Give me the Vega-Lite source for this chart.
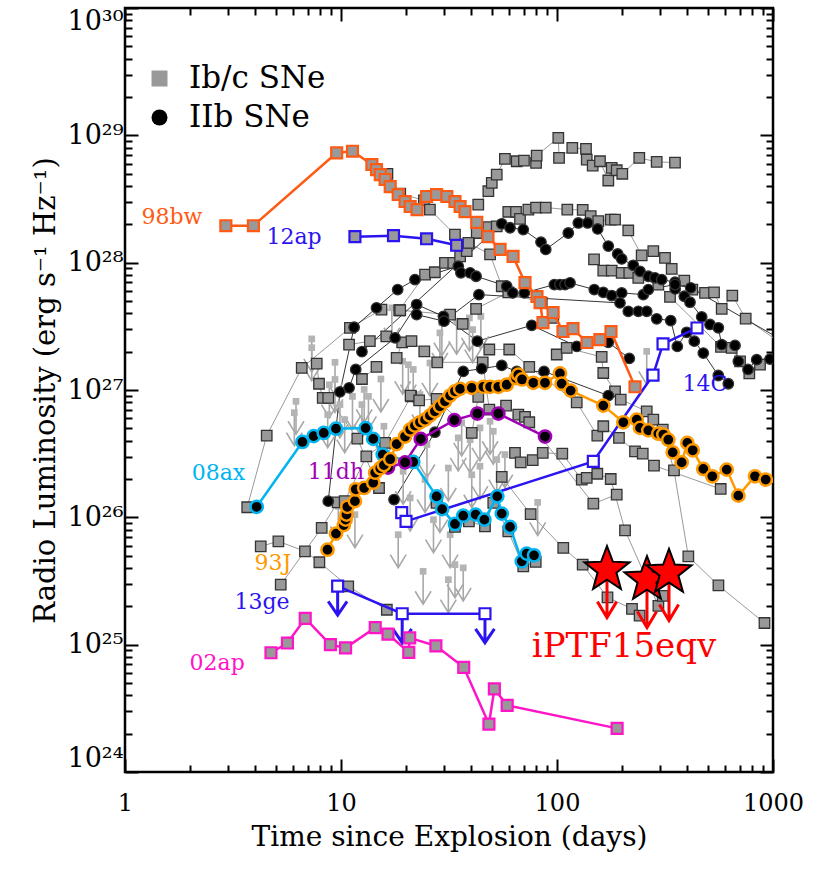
{
"$schema": "https://vega.github.io/schema/vega-lite/v6.json",
"width": 648, "height": 764,
"autosize": {"type": "none"},
"padding": {"left": 125, "top": 8, "right": 57, "bottom": 119},
"background": "white",
"config": {"view": {"stroke": "black", "strokeWidth": 2.5}, "font": "DejaVu Serif"},
"resolve": {"axis": {"x": "independent", "y": "independent"}},
"datasets": {
"bg": [
{"s":"G1","k":"Ib/c SNe","t":43.2,"L":2.86e28},{"s":"G1","k":"Ib/c SNe","t":48.1,"L":3.64e28},{"s":"G1","k":"Ib/c SNe","t":49.9,"L":4.24e28},{"s":"G1","k":"Ib/c SNe","t":52.6,"L":4.92e28},{"s":"G1","k":"Ib/c SNe","t":57.4,"L":6.53e28},{"s":"G1","k":"Ib/c SNe","t":65.1,"L":6.26e28},{"s":"G1","k":"Ib/c SNe","t":70.3,"L":6.34e28},{"s":"G1","k":"Ib/c SNe","t":80.0,"L":6.08e28},{"s":"G1","k":"Ib/c SNe","t":80.5,"L":6.94e28},{"s":"G1","k":"Ib/c SNe","t":101.4,"L":9.55e28},{"s":"G1","k":"Ib/c SNe","t":102.2,"L":6.65e28},{"s":"G1","k":"Ib/c SNe","t":117.7,"L":7.98e28},{"s":"G1","k":"Ib/c SNe","t":136.2,"L":7.83e28},{"s":"G1","k":"Ib/c SNe","t":137.3,"L":6.45e28},{"s":"G1","k":"Ib/c SNe","t":146.3,"L":5.79e28},{"s":"G1","k":"Ib/c SNe","t":158.1,"L":6.26e28},{"s":"G1","k":"Ib/c SNe","t":172.8,"L":4.42e28},{"s":"G1","k":"Ib/c SNe","t":179.2,"L":5.56e28},{"s":"G1","k":"Ib/c SNe","t":189.0,"L":5.32e28},{"s":"G1","k":"Ib/c SNe","t":200.6,"L":4.99e28},{"s":"G1","k":"Ib/c SNe","t":240.4,"L":6.65e28},{"s":"G1","k":"Ib/c SNe","t":289.4,"L":6.19e28},{"s":"G1","k":"Ib/c SNe","t":351.8,"L":6.11e28},
{"s":"G2","k":"Ib/c SNe","t":3.68,"L":1.20e26},{"s":"G2","k":"Ib/c SNe","t":4.53,"L":4.38e26},{"s":"G2","k":"Ib/c SNe","t":6.58,"L":1.49e27},{"s":"G2","k":"Ib/c SNe","t":11.0,"L":3.08e27},{"s":"G2","k":"Ib/c SNe","t":15.4,"L":4.28e27},{"s":"G2","k":"Ib/c SNe","t":18.6,"L":4.23e27},{"s":"G2","k":"Ib/c SNe","t":24.5,"L":8.06e27},{"s":"G2","k":"Ib/c SNe","t":27.2,"L":8.41e27},{"s":"G2","k":"Ib/c SNe","t":30.3,"L":9.96e27},{"s":"G2","k":"Ib/c SNe","t":33.1,"L":9.96e27},{"s":"G2","k":"Ib/c SNe","t":35.6,"L":1.12e28},{"s":"G2","k":"Ib/c SNe","t":38.2,"L":1.23e28},{"s":"G2","k":"Ib/c SNe","t":39.1,"L":1.43e28},{"s":"G2","k":"Ib/c SNe","t":42.5,"L":1.71e28},{"s":"G2","k":"Ib/c SNe","t":48.1,"L":1.90e28},{"s":"G2","k":"Ib/c SNe","t":52.6,"L":1.93e28},{"s":"G2","k":"Ib/c SNe","t":59.5,"L":2.51e28},{"s":"G2","k":"Ib/c SNe","t":64.6,"L":2.51e28},{"s":"G2","k":"Ib/c SNe","t":67.4,"L":2.21e28},{"s":"G2","k":"Ib/c SNe","t":73.7,"L":2.61e28},{"s":"G2","k":"Ib/c SNe","t":80.0,"L":2.71e28},{"s":"G2","k":"Ib/c SNe","t":88.7,"L":2.71e28},{"s":"G2","k":"Ib/c SNe","t":111.6,"L":2.61e28},{"s":"G2","k":"Ib/c SNe","t":131.5,"L":2.60e28},{"s":"G2","k":"Ib/c SNe","t":143.2,"L":2.32e28},{"s":"G2","k":"Ib/c SNe","t":155.3,"L":2.12e28},{"s":"G2","k":"Ib/c SNe","t":177.3,"L":2.18e28},{"s":"G2","k":"Ib/c SNe","t":185.6,"L":2.18e28},{"s":"G2","k":"Ib/c SNe","t":213.8,"L":1.79e28},{"s":"G2","k":"Ib/c SNe","t":246.6,"L":1.14e28},{"s":"G2","k":"Ib/c SNe","t":279.2,"L":1.23e28},{"s":"G2","k":"Ib/c SNe","t":316.2,"L":1.09e28},{"s":"G2","k":"Ib/c SNe","t":339.6,"L":8.94e27},{"s":"G2","k":"Ib/c SNe","t":388.5,"L":7.23e27},{"s":"G2","k":"Ib/c SNe","t":423.1,"L":6.15e27},{"s":"G2","k":"Ib/c SNe","t":484.5,"L":5.79e27},{"s":"G2","k":"Ib/c SNe","t":533.3,"L":5.85e27},{"s":"G2","k":"Ib/c SNe","t":578.8,"L":4.34e27},{"s":"G2","k":"Ib/c SNe","t":648.1,"L":5.52e27},{"s":"G2","k":"Ib/c SNe","t":747.4,"L":3.64e27},{"s":"G2","k":"Ib/c SNe","t":1199,"L":2.08e27},
{"s":"G3","k":"Ib/c SNe","t":16.4,"L":4.99e28},{"s":"G3","k":"Ib/c SNe","t":18.8,"L":3.49e28},{"s":"G3","k":"Ib/c SNe","t":24.2,"L":3.09e28},{"s":"G3","k":"Ib/c SNe","t":25.8,"L":2.61e28},{"s":"G3","k":"Ib/c SNe","t":33.7,"L":1.66e28},{"s":"G3","k":"Ib/c SNe","t":38.9,"L":1.43e28},{"s":"G3","k":"Ib/c SNe","t":49.0,"L":1.16e28},{"s":"G3","k":"Ib/c SNe","t":55.5,"L":6.53e27},
{"s":"G4","k":"Ib/c SNe","t":4.25,"L":5.92e25},{"s":"G4","k":"Ib/c SNe","t":5.13,"L":6.48e25},{"s":"G4","k":"Ib/c SNe","t":6.81,"L":5.41e25},{"s":"G4","k":"Ib/c SNe","t":7.94,"L":4.44e25},{"s":"G4","k":"Ib/c SNe","t":10.8,"L":2.87e25},{"s":"G4","k":"Ib/c SNe","t":16.3,"L":1.88e25},
{"s":"G5","k":"Ib/c SNe","t":5.26,"L":2.96e25},{"s":"G5","k":"Ib/c SNe","t":8.14,"L":8.26e25},{"s":"G5","k":"Ib/c SNe","t":9.65,"L":1.31e26},{"s":"G5","k":"Ib/c SNe","t":10.4,"L":1.34e26},{"s":"G5","k":"Ib/c SNe","t":13.1,"L":3.01e26},{"s":"G5","k":"Ib/c SNe","t":16.0,"L":3.84e26},{"s":"G5","k":"Ib/c SNe","t":21.1,"L":8.91e26},
{"s":"G6","k":"Ib/c SNe","t":55.5,"L":2.08e26},{"s":"G6","k":"Ib/c SNe","t":75.5,"L":1.06e26},{"s":"G6","k":"Ib/c SNe","t":106.9,"L":5.75e25},{"s":"G6","k":"Ib/c SNe","t":131.5,"L":4.25e25},{"s":"G6","k":"Ib/c SNe","t":171.3,"L":2.35e25},{"s":"G6","k":"Ib/c SNe","t":222.4,"L":1.91e25},{"s":"G6","k":"Ib/c SNe","t":241.2,"L":1.69e25},
{"s":"G7","k":"Ib/c SNe","t":63.9,"L":3.21e26},{"s":"G7","k":"Ib/c SNe","t":67.9,"L":2.70e26},{"s":"G7","k":"Ib/c SNe","t":77.2,"L":2.81e26},{"s":"G7","k":"Ib/c SNe","t":85.9,"L":3.21e26},{"s":"G7","k":"Ib/c SNe","t":105.8,"L":3.16e26},{"s":"G7","k":"Ib/c SNe","t":130.2,"L":1.98e26},{"s":"G7","k":"Ib/c SNe","t":137.3,"L":2.04e26},{"s":"G7","k":"Ib/c SNe","t":153.7,"L":2.20e26},{"s":"G7","k":"Ib/c SNe","t":177.3,"L":2.00e26},{"s":"G7","k":"Ib/c SNe","t":206.5,"L":7.91e25},{"s":"G7","k":"Ib/c SNe","t":294.7,"L":2.02e25},{"s":"G7","k":"Ib/c SNe","t":308.6,"L":2.42e25},
{"s":"G8","k":"Ib/c SNe","t":99.7,"L":1.90e27},{"s":"G8","k":"Ib/c SNe","t":110.9,"L":2.14e27},{"s":"G8","k":"Ib/c SNe","t":161.0,"L":1.82e27},{"s":"G8","k":"Ib/c SNe","t":163.8,"L":1.36e27},{"s":"G8","k":"Ib/c SNe","t":185.6,"L":9.77e26},{"s":"G8","k":"Ib/c SNe","t":197.2,"L":8.41e26},{"s":"G8","k":"Ib/c SNe","t":260.2,"L":6.80e26},{"s":"G8","k":"Ib/c SNe","t":279.2,"L":5.85e26},{"s":"G8","k":"Ib/c SNe","t":308.6,"L":4.89e26},{"s":"G8","k":"Ib/c SNe","t":348.0,"L":2.34e26},{"s":"G8","k":"Ib/c SNe","t":405.5,"L":4.94e25},{"s":"G8","k":"Ib/c SNe","t":558.8,"L":2.92e25},{"s":"G8","k":"Ib/c SNe","t":913.2,"L":1.48e25},
{"s":"G9","k":"Ib/c SNe","t":48.6,"L":2.08e27},{"s":"G9","k":"Ib/c SNe","t":60.1,"L":2.08e27},{"s":"G9","k":"Ib/c SNe","t":74.4,"L":1.52e27},{"s":"G9","k":"Ib/c SNe","t":123.4,"L":8.00e26},{"s":"G9","k":"Ib/c SNe","t":153.7,"L":4.38e26},{"s":"G9","k":"Ib/c SNe","t":163.8,"L":5.19e26},{"s":"G9","k":"Ib/c SNe","t":193.6,"L":4.21e26},{"s":"G9","k":"Ib/c SNe","t":229.7,"L":3.30e26},{"s":"G9","k":"Ib/c SNe","t":249.4,"L":3.16e26},{"s":"G9","k":"Ib/c SNe","t":281.2,"L":2.55e26},{"s":"G9","k":"Ib/c SNe","t":572.6,"L":1.67e26},
{"s":"G10","k":"Ib/c SNe","t":18.8,"L":4.23e27},{"s":"G10","k":"Ib/c SNe","t":32.0,"L":3.91e27},{"s":"G10","k":"Ib/c SNe","t":36.6,"L":3.30e27},{"s":"G10","k":"Ib/c SNe","t":42.2,"L":4.34e27},{"s":"G10","k":"Ib/c SNe","t":59.5,"L":5.85e27},{"s":"G10","k":"Ib/c SNe","t":85.0,"L":4.83e27},{"s":"G10","k":"Ib/c SNe","t":96.1,"L":3.68e27},
{"s":"G11","k":"Ib/c SNe","t":18.1,"L":1.79e27},{"s":"G11","k":"Ib/c SNe","t":19.2,"L":2.37e27},{"s":"G11","k":"Ib/c SNe","t":21.2,"L":2.42e27},{"s":"G11","k":"Ib/c SNe","t":24.3,"L":2.01e27},{"s":"G11","k":"Ib/c SNe","t":27.9,"L":1.65e27},{"s":"G11","k":"Ib/c SNe","t":45.3,"L":1.65e27},{"s":"G11","k":"Ib/c SNe","t":48.6,"L":7.02e26},{"s":"G11","k":"Ib/c SNe","t":58.1,"L":7.54e26},{"s":"G11","k":"Ib/c SNe","t":66.2,"L":6.41e26},{"s":"G11","k":"Ib/c SNe","t":71.1,"L":6.15e26},{"s":"G11","k":"Ib/c SNe","t":74.4,"L":5.58e26},{"s":"G11","k":"Ib/c SNe","t":147.3,"L":1.28e26},{"s":"G11","k":"Ib/c SNe","t":189.0,"L":1.51e26},
{"s":"G12","k":"Ib/c SNe","t":7.72,"L":1.61e27},{"s":"G12","k":"Ib/c SNe","t":7.91,"L":1.12e27},{"s":"G12","k":"Ib/c SNe","t":8.23,"L":8.67e26},{"s":"G12","k":"Ib/c SNe","t":8.73,"L":8.67e26},{"s":"G12","k":"Ib/c SNe","t":11.9,"L":4.15e26},{"s":"G12","k":"Ib/c SNe","t":15.0,"L":1.70e26},
{"s":"G13","k":"Ib/c SNe","t":21.0,"L":9.04e26},{"s":"G13","k":"Ib/c SNe","t":23.0,"L":8.30e26},{"s":"G13","k":"Ib/c SNe","t":27.7,"L":8.51e26},{"s":"G13","k":"Ib/c SNe","t":40.3,"L":4.60e26},{"s":"G13","k":"Ib/c SNe","t":43.2,"L":8.83e26},
{"s":"G14","k":"Ib/c SNe","t":148.4,"L":1.06e28},{"s":"G14","k":"Ib/c SNe","t":163.8,"L":8.67e27},{"s":"G14","k":"Ib/c SNe","t":179.2,"L":8.67e27},{"s":"G14","k":"Ib/c SNe","t":199.3,"L":8.32e27},{"s":"G14","k":"Ib/c SNe","t":216.1,"L":8.32e27},{"s":"G14","k":"Ib/c SNe","t":237.9,"L":7.60e27},{"s":"G14","k":"Ib/c SNe","t":294.4,"L":6.73e27},{"s":"G14","k":"Ib/c SNe","t":333.6,"L":5.39e27},{"s":"G14","k":"Ib/c SNe","t":574.5,"L":2.18e27},{"s":"G14","k":"Ib/c SNe","t":643.9,"L":2.14e27},{"s":"G14","k":"Ib/c SNe","t":703.6,"L":1.68e27},{"s":"G14","k":"Ib/c SNe","t":776.8,"L":1.35e27},{"s":"G14","k":"Ib/c SNe","t":870.6,"L":1.58e27},
{"s":"G15","k":"Ib/c SNe","t":10.9,"L":2.27e27},{"s":"G15","k":"Ib/c SNe","t":13.6,"L":2.42e27},{"s":"G15","k":"Ib/c SNe","t":16.2,"L":2.64e27},
{"s":"G16","k":"Ib/c SNe","t":12.5,"L":1.22e27},{"s":"G16","k":"Ib/c SNe","t":14.6,"L":1.52e27},
{"s":"G17","k":"Ib/c SNe","t":27.7,"L":1.30e26},{"s":"G17","k":"Ib/c SNe","t":33.7,"L":8.41e25},{"s":"G17","k":"Ib/c SNe","t":39.1,"L":9.30e25},{"s":"G17","k":"Ib/c SNe","t":46.4,"L":8.49e25},{"s":"G17","k":"Ib/c SNe","t":50.7,"L":1.30e26},{"s":"G17","k":"Ib/c SNe","t":59.5,"L":7.76e25},{"s":"G17","k":"Ib/c SNe","t":69.8,"L":4.12e25},{"s":"G17","k":"Ib/c SNe","t":79.7,"L":4.47e25},
{"s":"B1","k":"IIb SNe","t":12.5,"L":2.00e27},{"s":"B1","k":"IIb SNe","t":55.5,"L":2.02e28},{"s":"B1","k":"IIb SNe","t":60.6,"L":1.88e28},{"s":"B1","k":"IIb SNe","t":69.8,"L":1.82e28},{"s":"B1","k":"IIb SNe","t":84.3,"L":1.45e28},{"s":"B1","k":"IIb SNe","t":88.7,"L":1.27e28},{"s":"B1","k":"IIb SNe","t":112.8,"L":1.71e28},{"s":"B1","k":"IIb SNe","t":125.5,"L":2.05e28},{"s":"B1","k":"IIb SNe","t":138.7,"L":2.05e28},{"s":"B1","k":"IIb SNe","t":154.3,"L":1.84e28},{"s":"B1","k":"IIb SNe","t":172.8,"L":1.35e28},{"s":"B1","k":"IIb SNe","t":191.0,"L":1.17e28},{"s":"B1","k":"IIb SNe","t":199.3,"L":1.07e28},{"s":"B1","k":"IIb SNe","t":225.5,"L":9.54e27},{"s":"B1","k":"IIb SNe","t":242.3,"L":8.55e27},{"s":"B1","k":"IIb SNe","t":264.7,"L":7.82e27},{"s":"B1","k":"IIb SNe","t":284.2,"L":7.60e27},{"s":"B1","k":"IIb SNe","t":305.3,"L":7.36e27},{"s":"B1","k":"IIb SNe","t":351.8,"L":7.02e27},{"s":"B1","k":"IIb SNe","t":352.5,"L":6.22e27},{"s":"B1","k":"IIb SNe","t":388.5,"L":5.45e27},{"s":"B1","k":"IIb SNe","t":412.8,"L":4.89e27},{"s":"B1","k":"IIb SNe","t":467.7,"L":3.75e27},{"s":"B1","k":"IIb SNe","t":510.9,"L":3.27e27},{"s":"B1","k":"IIb SNe","t":558.3,"L":3.08e27},{"s":"B1","k":"IIb SNe","t":578.8,"L":2.27e27},{"s":"B1","k":"IIb SNe","t":667.1,"L":2.24e27},{"s":"B1","k":"IIb SNe","t":690.9,"L":1.68e27},{"s":"B1","k":"IIb SNe","t":766.1,"L":1.45e27},{"s":"B1","k":"IIb SNe","t":840.5,"L":1.73e27},{"s":"B1","k":"IIb SNe","t":968.6,"L":1.75e27},
{"s":"B2","k":"IIb SNe","t":8.73,"L":1.34e26},{"s":"B2","k":"IIb SNe","t":9.89,"L":9.66e26},{"s":"B2","k":"IIb SNe","t":11.5,"L":3.11e27},{"s":"B2","k":"IIb SNe","t":14.6,"L":4.42e27},{"s":"B2","k":"IIb SNe","t":18.3,"L":6.15e27},{"s":"B2","k":"IIb SNe","t":22.0,"L":7.36e27},{"s":"B2","k":"IIb SNe","t":34.9,"L":9.37e27},{"s":"B2","k":"IIb SNe","t":35.9,"L":8.32e27},{"s":"B2","k":"IIb SNe","t":39.6,"L":8.32e27},{"s":"B2","k":"IIb SNe","t":42.2,"L":7.82e27},{"s":"B2","k":"IIb SNe","t":58.5,"L":6.53e27},{"s":"B2","k":"IIb SNe","t":62.4,"L":5.79e27},{"s":"B2","k":"IIb SNe","t":70.6,"L":5.79e27},{"s":"B2","k":"IIb SNe","t":97.2,"L":6.73e27},{"s":"B2","k":"IIb SNe","t":103.2,"L":6.73e27},{"s":"B2","k":"IIb SNe","t":108.9,"L":6.73e27},{"s":"B2","k":"IIb SNe","t":114.9,"L":6.94e27},{"s":"B2","k":"IIb SNe","t":148.8,"L":6.15e27},{"s":"B2","k":"IIb SNe","t":163.8,"L":5.85e27},{"s":"B2","k":"IIb SNe","t":179.2,"L":5.52e27},{"s":"B2","k":"IIb SNe","t":199.3,"L":5.79e27},{"s":"B2","k":"IIb SNe","t":250.9,"L":5.61e27},{"s":"B2","k":"IIb SNe","t":264.7,"L":6.15e27},{"s":"B2","k":"IIb SNe","t":351.8,"L":6.73e27},{"s":"B2","k":"IIb SNe","t":415.9,"L":6.34e27},{"s":"B2","k":"IIb SNe","t":1199,"L":2.27e27},
{"s":"B3","k":"IIb SNe","t":10.9,"L":1.04e27},{"s":"B3","k":"IIb SNe","t":11.7,"L":1.45e27},{"s":"B3","k":"IIb SNe","t":17.8,"L":2.57e27},{"s":"B3","k":"IIb SNe","t":22.4,"L":4.69e27},{"s":"B3","k":"IIb SNe","t":29.8,"L":3.79e27},{"s":"B3","k":"IIb SNe","t":42.8,"L":2.42e27},{"s":"B3","k":"IIb SNe","t":76.4,"L":3.22e27},{"s":"B3","k":"IIb SNe","t":123.4,"L":2.20e27},{"s":"B3","k":"IIb SNe","t":172.8,"L":2.37e27},{"s":"B3","k":"IIb SNe","t":216.1,"L":1.77e27},
{"s":"B4","k":"IIb SNe","t":22.4,"L":3.91e27},{"s":"B4","k":"IIb SNe","t":30.0,"L":3.47e27},{"s":"B4","k":"IIb SNe","t":43.5,"L":5.61e27},{"s":"B4","k":"IIb SNe","t":195.7,"L":4.83e27},{"s":"B4","k":"IIb SNe","t":213.8,"L":4.15e27},{"s":"B4","k":"IIb SNe","t":237.9,"L":4.15e27},{"s":"B4","k":"IIb SNe","t":260.2,"L":4.15e27},{"s":"B4","k":"IIb SNe","t":289.4,"L":3.62e27},{"s":"B4","k":"IIb SNe","t":336.1,"L":3.51e27},{"s":"B4","k":"IIb SNe","t":360.6,"L":2.20e27},{"s":"B4","k":"IIb SNe","t":398.6,"L":2.84e27},{"s":"B4","k":"IIb SNe","t":432.2,"L":2.42e27},{"s":"B4","k":"IIb SNe","t":475.7,"L":1.95e27},{"s":"B4","k":"IIb SNe","t":558.3,"L":1.30e27},{"s":"B4","k":"IIb SNe","t":621.0,"L":1.12e27},
{"s":"B5","k":"IIb SNe","t":17.6,"L":1.38e26},{"s":"B5","k":"IIb SNe","t":27.2,"L":4.66e26},{"s":"B5","k":"IIb SNe","t":36.8,"L":1.40e27},{"s":"B5","k":"IIb SNe","t":44.8,"L":1.47e27},{"s":"B5","k":"IIb SNe","t":55.5,"L":1.56e27},{"s":"B5","k":"IIb SNe","t":65.1,"L":1.40e27},{"s":"B5","k":"IIb SNe","t":87.1,"L":1.40e27},{"s":"B5","k":"IIb SNe","t":172.8,"L":9.04e26}
],
"lim": [
{"t":6.19,"L":8.15e26},{"t":6.08,"L":6.64e26},{"t":7.32,"L":2.52e27},{"t":7.32,"L":2.15e27},{"t":8.83,"L":1.10e27},{"t":9.38,"L":1.65e27},{"t":9.38,"L":1.21e27},{"t":9.89,"L":7.68e26},{"t":8.68,"L":6.41e26},{"t":11.3,"L":8.91e26},{"t":12.8,"L":1.01e27},{"t":13.4,"L":8.91e26},{"t":15.3,"L":1.22e27},{"t":17.2,"L":4.42e27},{"t":15.8,"L":5.19e26},{"t":19.3,"L":1.68e27},{"t":20.5,"L":1.58e27},{"t":21.6,"L":1.45e27},{"t":25.8,"L":1.63e27},{"t":28.7,"L":2.81e27},{"t":29.3,"L":3.37e27},{"t":34.3,"L":3.47e27},{"t":39.3,"L":3.68e27},{"t":40.7,"L":2.98e27},{"t":44.4,"L":3.79e27},{"t":36.2,"L":5.52e26},{"t":44.0,"L":5.04e26},{"t":49.0,"L":5.68e26},{"t":50.7,"L":4.74e26},{"t":34.9,"L":4.21e26},{"t":31.4,"L":2.44e26},{"t":40.3,"L":2.16e26},{"t":44.0,"L":2.52e26},{"t":52.6,"L":2.84e26},{"t":19.4,"L":2.30e26},{"t":20.9,"L":1.42e26},{"t":26.8,"L":9.59e25},{"t":18.4,"L":7.31e25},{"t":32.0,"L":7.31e25},{"t":24.0,"L":3.77e25},{"t":33.7,"L":4.25e25},{"t":36.8,"L":4.01e25},{"t":31.4,"L":3.24e25},{"t":81.4,"L":1.31e26},{"t":260.2,"L":2.01e27},{"t":9.72,"L":1.22e26},{"t":11.6,"L":1.05e26},{"t":23.2,"L":9.21e26},{"t":25.0,"L":3.73e26},{"t":10.4,"L":5.85e26},{"t":12.5,"L":7.68e26},{"t":28.7,"L":1.38e26},{"t":57.4,"L":3.11e26},{"t":39.6,"L":4.07e26},{"t":24.5,"L":1.98e26}
],
"hl": [
{"s":"98bw","t":2.93,"L":1.95e28},{"s":"98bw","t":3.93,"L":1.95e28},{"s":"98bw","t":9.55,"L":7.29e28},{"s":"98bw","t":11.3,"L":7.5e28},{"s":"98bw","t":13.9,"L":5.9e28},{"s":"98bw","t":14.6,"L":5.38e28},{"s":"98bw","t":15.2,"L":4.92e28},{"s":"98bw","t":16.0,"L":4.50e28},{"s":"98bw","t":16.9,"L":3.96e28},{"s":"98bw","t":18.4,"L":3.43e28},{"s":"98bw","t":19.8,"L":3.02e28},{"s":"98bw","t":20.9,"L":2.76e28},{"s":"98bw","t":22.5,"L":2.61e28},{"s":"98bw","t":24.9,"L":3.31e28},{"s":"98bw","t":27.7,"L":3.43e28},{"s":"98bw","t":30.9,"L":3.31e28},{"s":"98bw","t":33.7,"L":3.02e28},{"s":"98bw","t":35.6,"L":2.76e28},{"s":"98bw","t":37.5,"L":2.52e28},{"s":"98bw","t":42.5,"L":2.07e28},{"s":"98bw","t":47.9,"L":1.60e28},{"s":"98bw","t":54.5,"L":1.27e28},{"s":"98bw","t":62.6,"L":1.12e28},{"s":"98bw","t":71.1,"L":6.98e27},{"s":"98bw","t":80.8,"L":5.42e27},{"s":"98bw","t":83.5,"L":4.86e27},{"s":"98bw","t":86.1,"L":3.38e27},{"s":"98bw","t":95.9,"L":4.06e27},{"s":"98bw","t":106.6,"L":2.88e27},{"s":"98bw","t":118.6,"L":3.03e27},{"s":"98bw","t":137.7,"L":2.36e27},{"s":"98bw","t":158,"L":2.49e27},{"s":"98bw","t":177.8,"L":2.88e27},{"s":"98bw","t":229.7,"L":1.06e27},
{"s":"12ap","t":11.6,"L":1.60e28},{"s":"12ap","t":17.5,"L":1.63e28},{"s":"12ap","t":24.9,"L":1.54e28},{"s":"12ap","t":34.3,"L":1.37e28},
{"s":"08ax","t":4.07,"L":1.21e26},{"s":"08ax","t":6.63,"L":3.91e26},{"s":"08ax","t":7.47,"L":4.34e26},{"s":"08ax","t":8.32,"L":4.60e26},{"s":"08ax","t":9.48,"L":4.97e26},{"s":"08ax","t":13.0,"L":5.02e26},{"s":"08ax","t":14.1,"L":4.13e26},{"s":"08ax","t":15.6,"L":3.11e26},{"s":"08ax","t":21.6,"L":2.72e26},{"s":"08ax","t":27.7,"L":1.46e26},{"s":"08ax","t":29.4,"L":1.16e26},{"s":"08ax","t":33.7,"L":8.87e25},{"s":"08ax","t":36.8,"L":1.03e26},{"s":"08ax","t":42.0,"L":1.05e26},{"s":"08ax","t":46.1,"L":9.59e25},{"s":"08ax","t":52.9,"L":1.46e26},{"s":"08ax","t":55.5,"L":1.07e26},{"s":"08ax","t":60.6,"L":8.41e25},{"s":"08ax","t":68.7,"L":4.51e25},{"s":"08ax","t":72.4,"L":5.19e25},{"s":"08ax","t":78.3,"L":5.03e25},
{"s":"11dh","t":16.5,"L":2.46e26},{"s":"11dh","t":19.8,"L":2.70e26},{"s":"11dh","t":23.4,"L":4.13e26},{"s":"11dh","t":33.5,"L":5.80e26},{"s":"11dh","t":42.8,"L":6.53e26},{"s":"11dh","t":53.5,"L":6.53e26},{"s":"11dh","t":88.0,"L":4.31e26},
{"s":"93J","t":8.66,"L":5.57e25},{"s":"93J","t":9.48,"L":7.45e25},{"s":"93J","t":10.3,"L":8.69e25},{"s":"93J","t":10.5,"L":9.59e25},{"s":"93J","t":10.6,"L":1.05e26},{"s":"93J","t":10.7,"L":1.21e26},{"s":"93J","t":11.6,"L":1.34e26},{"s":"93J","t":11.7,"L":1.66e26},{"s":"93J","t":12.8,"L":1.70e26},{"s":"93J","t":14.1,"L":1.87e26},{"s":"93J","t":14.4,"L":2.24e26},{"s":"93J","t":15.2,"L":2.43e26},{"s":"93J","t":15.8,"L":2.57e26},{"s":"93J","t":16.9,"L":2.86e26},{"s":"93J","t":18.1,"L":3.76e26},{"s":"93J","t":19.8,"L":4.31e26},{"s":"93J","t":20.9,"L":4.89e26},{"s":"93J","t":22.0,"L":5.25e26},{"s":"93J","t":23.2,"L":5.58e26},{"s":"93J","t":24.5,"L":5.85e26},{"s":"93J","t":25.8,"L":6.29e26},{"s":"93J","t":27.2,"L":6.80e26},{"s":"93J","t":28.7,"L":7.45e26},{"s":"93J","t":30.3,"L":8.15e26},{"s":"93J","t":32.0,"L":9.04e26},{"s":"93J","t":33.7,"L":9.77e26},{"s":"93J","t":35.6,"L":1.02e27},{"s":"93J","t":40.3,"L":1.04e27},{"s":"93J","t":45.6,"L":1.06e27},{"s":"93J","t":49.0,"L":1.06e27},{"s":"93J","t":53.5,"L":1.06e27},{"s":"93J","t":58.5,"L":1.10e27},{"s":"93J","t":64.6,"L":1.24e27},{"s":"93J","t":66.2,"L":1.32e27},{"s":"93J","t":68.9,"L":1.21e27},{"s":"93J","t":77.7,"L":1.14e27},{"s":"93J","t":88.0,"L":1.14e27},{"s":"93J","t":103.2,"L":1.35e27},{"s":"93J","t":105.1,"L":1.12e27},{"s":"93J","t":115.7,"L":9.89e26},{"s":"93J","t":163.8,"L":7.54e26},{"s":"93J","t":202.8,"L":5.58e26},{"s":"93J","t":233.9,"L":5.85e26},{"s":"93J","t":242.3,"L":5.04e26},{"s":"93J","t":264.7,"L":4.82e26},{"s":"93J","t":294.4,"L":4.54e26},{"s":"93J","t":310.6,"L":4.47e26},{"s":"93J","t":327.6,"L":4.07e26},{"s":"93J","t":343.3,"L":3.24e26},{"s":"93J","t":377.8,"L":2.70e26},{"s":"93J","t":401.1,"L":3.84e26},{"s":"93J","t":424.9,"L":3.36e26},{"s":"93J","t":475.7,"L":2.40e26},{"s":"93J","t":523.6,"L":2.10e26},{"s":"93J","t":610.6,"L":2.37e26},{"s":"93J","t":690.9,"L":1.48e26},{"s":"93J","t":825.4,"L":2.10e26},{"s":"93J","t":925.0,"L":1.98e26},{"s":"93J","t":1200,"L":1.74e26},
{"s":"14C","t":19.1,"L":1.09e26},{"s":"14C","t":20.0,"L":9.30e25},{"s":"14C","t":147.3,"L":2.75e26},{"s":"14C","t":278.3,"L":1.31e27},{"s":"14C","t":309.6,"L":2.30e27},{"s":"14C","t":444.8,"L":3.07e27},
{"s":"13ge","t":9.65,"L":2.88e25},{"s":"13ge","t":19.2,"L":1.75e25},{"s":"13ge","t":46.4,"L":1.75e25},
{"s":"02ap","t":4.74,"L":8.64e24},{"s":"02ap","t":5.65,"L":1.03e25},{"s":"02ap","t":6.83,"L":1.61e25},{"s":"02ap","t":8.93,"L":1.00e25},{"s":"02ap","t":10.5,"L":9.44e24},{"s":"02ap","t":14.4,"L":1.36e25},{"s":"02ap","t":16.5,"L":1.21e25},{"s":"02ap","t":20.6,"L":8.69e24},{"s":"02ap","t":20.8,"L":1.13e25},{"s":"02ap","t":27.5,"L":9.79e24},{"s":"02ap","t":37.0,"L":6.64e24},{"s":"02ap","t":48.4,"L":2.38e24},{"s":"02ap","t":51.3,"L":4.49e24},{"s":"02ap","t":58.8,"L":3.34e24},{"s":"02ap","t":189.8,"L":2.20e24}
],
"ptf": [{"t":170.4,"L":3.88e25},{"t":261.0,"L":3.24e25},{"t":330.0,"L":3.68e25}],
"lbl": [
{"s":"98bw","t":1.65,"L":2.30e28},{"s":"12ap","t":6.06,"L":1.60e28},{"s":"08ax","t":2.71,"L":2.24e26},{"s":"11dh","t":9.48,"L":2.29e26},{"s":"93J","t":4.84,"L":4.41e25},{"s":"13ge","t":4.31,"L":2.18e25},{"s":"02ap","t":2.67,"L":7.22e24},{"s":"14C","t":484.5,"L":1.12e27},{"s":"iPTF15eqv","t":204.2,"L":9.64e24}
]
},
"layer": [
{"data": {"name": "bg"}, "transform": [{"filter": "datum.k == 'Ib/c SNe'"}],
 "mark": {"type": "line", "stroke": "#9a9a9a", "strokeWidth": 1, "clip": true},
 "encoding": {
  "x": {"field": "t", "type": "quantitative", "scale": {"type": "log", "domain": [1, 1000], "nice": false},
        "axis": {"orient": "bottom", "values": [1, 10, 100, 1000], "labelExpr": "format(datum.value, 'd')",
                 "ticks": false, "domain": false, "grid": true, "gridColor": "#000000", "gridWidth": 2, "gridOpacity": 1, "gridDash": [13, 738, 13, 0],
                 "labelFont": "DejaVu Serif", "labelFontSize": 24, "labelColor": "black", "labelPadding": 19, "labelFlush": false, "labelOverlap": false,
                 "title": "Time since Explosion (days)", "titleFont": "DejaVu Serif", "titleFontSize": 28, "titleFontWeight": "normal", "titleColor": "black", "titlePadding": 8}},
  "y": {"field": "L", "type": "quantitative", "scale": {"type": "log", "domain": [1e24, 1e30], "nice": false},
        "axis": {"orient": "left", "values": [1e24, 1e25, 1e26, 1e27, 1e28, 1e29, 1e30],
                 "labelExpr": "'10' + ['²⁴','²⁵','²⁶','²⁷','²⁸','²⁹','³⁰'][round(log(datum.value)/LN10) - 24]",
                 "ticks": false, "domain": false, "grid": true, "gridColor": "#000000", "gridWidth": 2, "gridOpacity": 1, "gridDash": [13, 622, 13, 0],
                 "labelFont": "DejaVu Serif", "labelFontSize": 27, "labelColor": "black", "labelPadding": 2, "labelFlush": true, "labelFlushOffset": 0, "labelOverlap": false,
                 "title": "Radio Luminosity (erg s⁻¹ Hz⁻¹)", "titleFont": "DejaVu Serif", "titleFontSize": 29, "titleFontWeight": "normal", "titleColor": "black", "titlePadding": 6}},
  "detail": {"field": "s"}
 }},
{"data": {"name": "bg"}, "transform": [{"filter": "datum.k == 'IIb SNe'"}],
 "mark": {"type": "line", "stroke": "#000000", "strokeWidth": 0.8, "clip": true},
 "encoding": {
  "x": {"field": "t", "type": "quantitative", "scale": {"type": "log", "domain": [1, 1000], "nice": false},
        "axis": {"orient": "top", "values": [2,3,4,5,6,7,8,9,20,30,40,50,60,70,80,90,200,300,400,500,600,700,800,900],
                 "labels": false, "ticks": false, "domain": false, "title": null, "grid": true, "gridColor": "#000000", "gridWidth": 2, "gridOpacity": 1, "gridDash": [7, 750, 7, 0]}},
  "y": {"field": "L", "type": "quantitative", "scale": {"type": "log", "domain": [1e24, 1e30], "nice": false},
        "axis": {"orient": "right", "values": [2e24,3e24,4e24,5e24,6e24,7e24,8e24,9e24,2e25,3e25,4e25,5e25,6e25,7e25,8e25,9e25,2e26,3e26,4e26,5e26,6e26,7e26,8e26,9e26,2e27,3e27,4e27,5e27,6e27,7e27,8e27,9e27,2e28,3e28,4e28,5e28,6e28,7e28,8e28,9e28,2e29,3e29,4e29,5e29,6e29,7e29,8e29,9e29],
                 "labels": false, "ticks": false, "domain": false, "title": null, "grid": true, "gridColor": "#000000", "gridWidth": 2, "gridOpacity": 1, "gridDash": [7, 634, 7, 0]}},
  "detail": {"field": "s"}
 }},
{"data": {"name": "lim"},
 "mark": {"type": "point", "shape": "M0,0L0,2M-0.48,1.21L0,2L0.48,1.21", "filled": false, "stroke": "#a8a8a8", "strokeWidth": 1.6, "size": 1089, "opacity": 1},
 "encoding": {
  "x": {"field": "t", "type": "quantitative", "scale": {"type": "log", "domain": [1, 1000], "nice": false}, "axis": null},
  "y": {"field": "L", "type": "quantitative", "scale": {"type": "log", "domain": [1e24, 1e30], "nice": false}, "axis": null}
 }},
{"data": {"name": "lim"},
 "mark": {"type": "point", "shape": "square", "filled": true, "fill": "#b4b4b4", "strokeWidth": 0, "size": 45, "opacity": 1},
 "encoding": {
  "x": {"field": "t", "type": "quantitative", "scale": {"type": "log", "domain": [1, 1000], "nice": false}, "axis": null},
  "y": {"field": "L", "type": "quantitative", "scale": {"type": "log", "domain": [1e24, 1e30], "nice": false}, "axis": null}
 }},
{"data": {"name": "bg"},
 "mark": {"type": "point", "filled": true, "opacity": 1, "stroke": "#333333", "strokeWidth": 1.3, "size": 110, "clip": true},
 "encoding": {
  "x": {"field": "t", "type": "quantitative", "scale": {"type": "log", "domain": [1, 1000], "nice": false}, "axis": null},
  "y": {"field": "L", "type": "quantitative", "scale": {"type": "log", "domain": [1e24, 1e30], "nice": false}, "axis": null},
  "shape": {"field": "k", "type": "nominal", "scale": {"domain": ["Ib/c SNe", "IIb SNe"], "range": ["square", "circle"]},
            "legend": {"title": null, "orient": "none", "legendX": 19, "legendY": 55, "padding": 0, "labelFont": "DejaVu Serif", "labelFontSize": 31, "symbolSize": 256, "symbolStrokeWidth": 2, "symbolStrokeColor": "#000000", "labelOffset": 14, "rowPadding": 7, "encode": {"labels": {"update": {"fill": {"signal": "datum.label == 'Ib/c SNe' ? '#666666' : '#000000'"}}}, "symbols": {"update": {"stroke": {"value": "#000000"}, "strokeWidth": {"value": 2}}}}}},
  "fill": {"field": "k", "type": "nominal", "scale": {"domain": ["Ib/c SNe", "IIb SNe"], "range": ["#999999", "#000000"]},
            "legend": {"title": null, "orient": "none", "legendX": 19, "legendY": 55, "padding": 0, "labelFont": "DejaVu Serif", "labelFontSize": 31, "symbolSize": 256, "symbolStrokeWidth": 2, "symbolStrokeColor": "#000000", "labelOffset": 14, "rowPadding": 7, "encode": {"labels": {"update": {"fill": {"signal": "datum.label == 'Ib/c SNe' ? '#666666' : '#000000'"}}}, "symbols": {"update": {"stroke": {"value": "#000000"}, "strokeWidth": {"value": 2}}}}}}
 }},
{"data": {"name": "hl"},
 "mark": {"type": "line", "strokeWidth": 2.5, "clip": true},
 "encoding": {
  "x": {"field": "t", "type": "quantitative", "scale": {"type": "log", "domain": [1, 1000], "nice": false}, "axis": null},
  "y": {"field": "L", "type": "quantitative", "scale": {"type": "log", "domain": [1e24, 1e30], "nice": false}, "axis": null},
  "color": {"field": "s", "type": "nominal", "scale": {"domain": ["98bw","12ap","08ax","11dh","93J","14C","13ge","02ap","iPTF15eqv"], "range": ["#FF5A14","#2B14F0","#00B4F0","#A000B4","#FF9900","#2B14F0","#2B14F0","#FF14C8","#FF0000"]}, "legend": null}
 }},
{"data": {"name": "hl"}, "transform": [{"filter": "datum.s == '13ge'"}],
 "mark": {"type": "point", "shape": "M0,0L0,2M-0.65,1.05L0,2L0.65,1.05", "filled": false, "stroke": "#2B14F0", "strokeWidth": 3, "size": 841, "opacity": 1},
 "encoding": {
  "x": {"field": "t", "type": "quantitative", "scale": {"type": "log", "domain": [1, 1000], "nice": false}, "axis": null},
  "y": {"field": "L", "type": "quantitative", "scale": {"type": "log", "domain": [1e24, 1e30], "nice": false}, "axis": null}
 }},
{"data": {"name": "hl"}, "transform": [{"filter": {"field": "s", "oneOf": ["98bw", "12ap", "02ap"]}}],
 "mark": {"type": "point", "shape": "square", "filled": true, "fill": "#999999", "strokeWidth": 2.2, "size": 120, "opacity": 1, "clip": true},
 "encoding": {
  "x": {"field": "t", "type": "quantitative", "scale": {"type": "log", "domain": [1, 1000], "nice": false}, "axis": null},
  "y": {"field": "L", "type": "quantitative", "scale": {"type": "log", "domain": [1e24, 1e30], "nice": false}, "axis": null},
  "stroke": {"field": "s", "type": "nominal", "scale": {"domain": ["98bw","12ap","08ax","11dh","93J","14C","13ge","02ap","iPTF15eqv"], "range": ["#FF5A14","#2B14F0","#00B4F0","#A000B4","#FF9900","#2B14F0","#2B14F0","#FF14C8","#FF0000"]}, "legend": null}
 }},
{"data": {"name": "hl"}, "transform": [{"filter": {"field": "s", "oneOf": ["14C", "13ge"]}}],
 "mark": {"type": "point", "shape": "square", "filled": true, "fill": "#ffffff", "strokeWidth": 2.2, "size": 120, "opacity": 1, "clip": true},
 "encoding": {
  "x": {"field": "t", "type": "quantitative", "scale": {"type": "log", "domain": [1, 1000], "nice": false}, "axis": null},
  "y": {"field": "L", "type": "quantitative", "scale": {"type": "log", "domain": [1e24, 1e30], "nice": false}, "axis": null},
  "stroke": {"field": "s", "type": "nominal", "scale": {"domain": ["98bw","12ap","08ax","11dh","93J","14C","13ge","02ap","iPTF15eqv"], "range": ["#FF5A14","#2B14F0","#00B4F0","#A000B4","#FF9900","#2B14F0","#2B14F0","#FF14C8","#FF0000"]}, "legend": null}
 }},
{"data": {"name": "hl"}, "transform": [{"filter": {"field": "s", "oneOf": ["08ax", "93J", "11dh"]}}],
 "mark": {"type": "point", "shape": "circle", "filled": true, "fill": "#000000", "strokeWidth": 2.5, "size": 150, "opacity": 1, "clip": true},
 "encoding": {
  "x": {"field": "t", "type": "quantitative", "scale": {"type": "log", "domain": [1, 1000], "nice": false}, "axis": null},
  "y": {"field": "L", "type": "quantitative", "scale": {"type": "log", "domain": [1e24, 1e30], "nice": false}, "axis": null},
  "stroke": {"field": "s", "type": "nominal", "scale": {"domain": ["98bw","12ap","08ax","11dh","93J","14C","13ge","02ap","iPTF15eqv"], "range": ["#FF5A14","#2B14F0","#00B4F0","#A000B4","#FF9900","#2B14F0","#2B14F0","#FF14C8","#FF0000"]}, "legend": null}
 }},
{"data": {"name": "ptf"},
 "mark": {"type": "point", "shape": "M0,0L0,2M-0.4,1.33L0,2L0.4,1.33", "filled": false, "stroke": "#FF0000", "strokeWidth": 3, "size": 2304, "opacity": 1},
 "encoding": {
  "x": {"field": "t", "type": "quantitative", "scale": {"type": "log", "domain": [1, 1000], "nice": false}, "axis": null},
  "y": {"field": "L", "type": "quantitative", "scale": {"type": "log", "domain": [1e24, 1e30], "nice": false}, "axis": null}
 }},
{"data": {"name": "ptf"},
 "mark": {"type": "point", "shape": "M0,-1L0.2469,-0.3398L0.9511,-0.309L0.3995,0.1298L0.5878,0.809L0,0.42L-0.5878,0.809L-0.3995,0.1298L-0.9511,-0.309L-0.2469,-0.3398Z", "filled": true, "fill": "#FF0000", "stroke": "#000000", "strokeWidth": 2, "size": 2240, "opacity": 1},
 "encoding": {
  "x": {"field": "t", "type": "quantitative", "scale": {"type": "log", "domain": [1, 1000], "nice": false}, "axis": null},
  "y": {"field": "L", "type": "quantitative", "scale": {"type": "log", "domain": [1e24, 1e30], "nice": false}, "axis": null}
 }},
{"data": {"name": "lbl"}, "transform": [{"filter": "datum.s != 'iPTF15eqv'"}],
 "mark": {"type": "text", "font": "DejaVu Serif", "fontSize": 22, "align": "center", "baseline": "middle"},
 "encoding": {
  "x": {"field": "t", "type": "quantitative", "scale": {"type": "log", "domain": [1, 1000], "nice": false}, "axis": null},
  "y": {"field": "L", "type": "quantitative", "scale": {"type": "log", "domain": [1e24, 1e30], "nice": false}, "axis": null},
  "text": {"field": "s"},
  "color": {"field": "s", "type": "nominal", "scale": {"domain": ["98bw","12ap","08ax","11dh","93J","14C","13ge","02ap","iPTF15eqv"], "range": ["#FF5A14","#2B14F0","#00B4F0","#A000B4","#FF9900","#2B14F0","#2B14F0","#FF14C8","#FF0000"]}, "legend": null}
 }},
{"data": {"name": "lbl"}, "transform": [{"filter": "datum.s == 'iPTF15eqv'"}],
 "mark": {"type": "text", "font": "DejaVu Serif", "fontSize": 34, "align": "center", "baseline": "middle"},
 "encoding": {
  "x": {"field": "t", "type": "quantitative", "scale": {"type": "log", "domain": [1, 1000], "nice": false}, "axis": null},
  "y": {"field": "L", "type": "quantitative", "scale": {"type": "log", "domain": [1e24, 1e30], "nice": false}, "axis": null},
  "text": {"field": "s"},
  "color": {"field": "s", "type": "nominal", "scale": {"domain": ["98bw","12ap","08ax","11dh","93J","14C","13ge","02ap","iPTF15eqv"], "range": ["#FF5A14","#2B14F0","#00B4F0","#A000B4","#FF9900","#2B14F0","#2B14F0","#FF14C8","#FF0000"]}, "legend": null}
 }}
]
}
